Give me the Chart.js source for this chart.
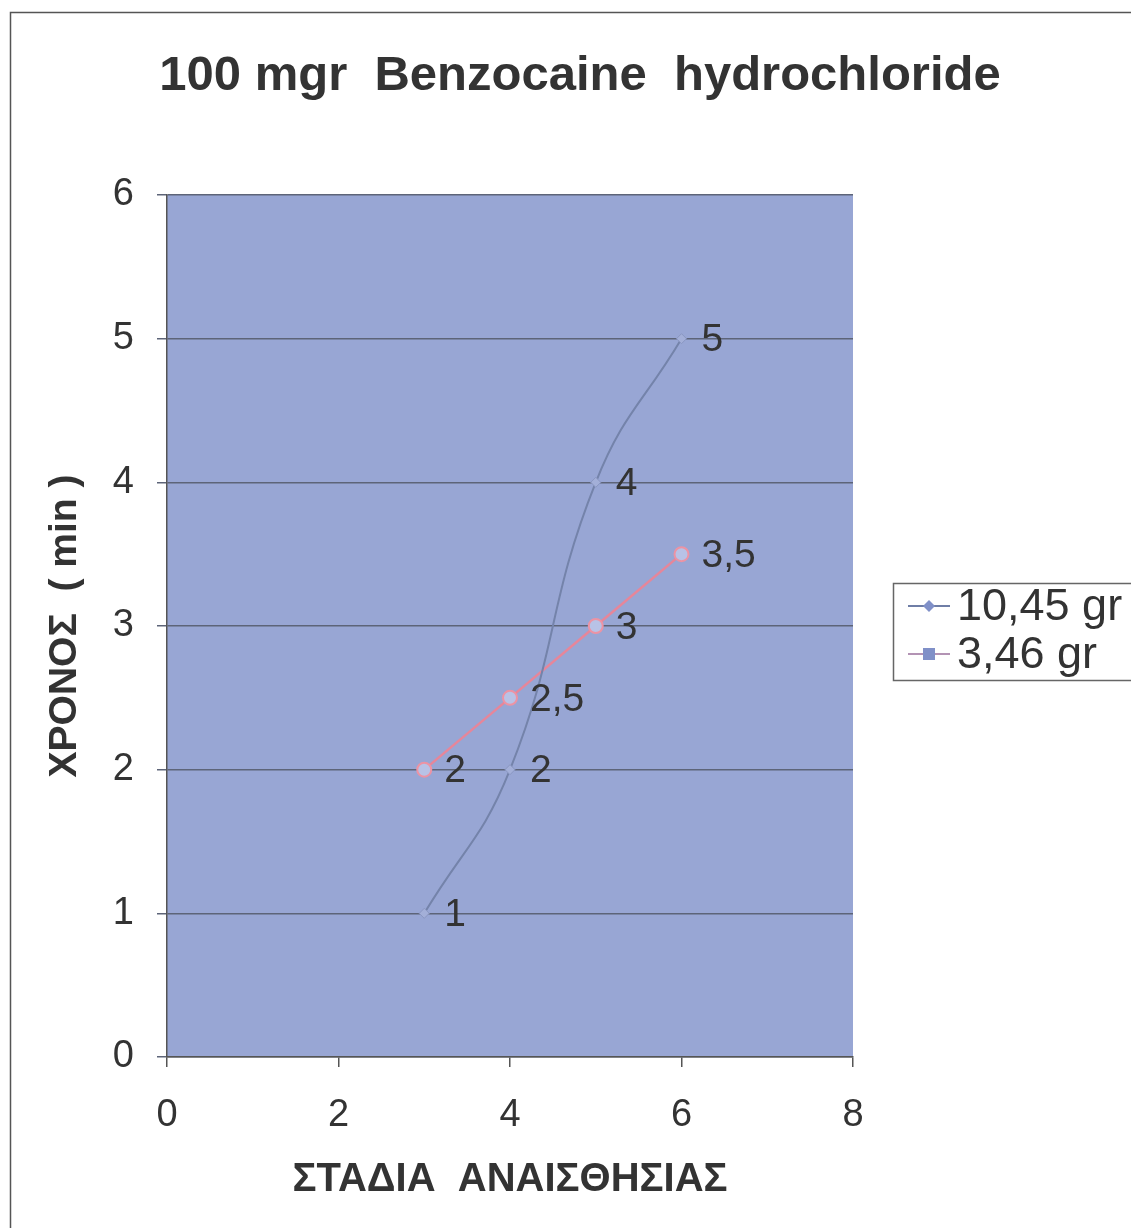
<!DOCTYPE html>
<html>
<head>
<meta charset="utf-8">
<title>100 mgr Benzocaine hydrochloride</title>
<script src="https://cdn.jsdelivr.net/npm/chart.js@4.4.1/dist/chart.umd.min.js"></script>
<style>
  html, body { margin: 0; padding: 0; background: #ffffff; }
  #chart { display: block; }
</style>
</head>
<body>
<canvas id="chart" width="1131" height="1228"></canvas>
<script>
// --- DATA ---
const stagesHigh = [3, 4, 5, 6];        // ΣΤΑΔΙΑ for 10,45 gr
const timesHigh = [1, 2, 4, 5];         // ΧΡΟΝΟΣ (min)
const stagesLow = [3, 4, 5, 6];         // ΣΤΑΔΙΑ for 3,46 gr
const timesLow = [2, 2.5, 3, 3.5];
const seriesNames = ['10,45 gr', '3,46 gr'];
const xTicks = [0, 2, 4, 6, 8];
const yTicks = [0, 1, 2, 3, 4, 5, 6];

const FONT = '"Liberation Sans", Arial, sans-serif';
const TEXT = '#333333';

const toPoints = (xs, ys) => xs.map((x, i) => ({ x, y: ys[i] }));
const fmt = v => String(v).replace('.', ',');

// --- PLUGINS ---

// plot background, outer frame and the main title
const frame = {
    id: 'frame',
    beforeDraw(chart) {
        const { ctx, chartArea: a } = chart;
        ctx.save();
        ctx.fillStyle = '#98a6d4';
        ctx.fillRect(a.left, a.top, a.right - a.left, a.bottom - a.top);
        ctx.strokeStyle = '#555555';
        ctx.lineWidth = 1.5;
        ctx.beginPath();
        ctx.moveTo(10.5, chart.height);
        ctx.lineTo(10.5, 12.5);
        ctx.lineTo(chart.width, 12.5);
        ctx.stroke();
        ctx.fillStyle = TEXT;
        ctx.font = 'bold 49px ' + FONT;
        ctx.textAlign = 'center';
        ctx.textBaseline = 'middle';
        ctx.fillText('100 mgr  Benzocaine  hydrochloride', 580, 76);
        ctx.restore();
    }
};

// value labels to the right of each point
const valueLabels = {
    id: 'valueLabels',
    afterDatasetsDraw(chart) {
        const { ctx } = chart;
        ctx.save();
        ctx.fillStyle = TEXT;
        ctx.font = '39px ' + FONT;
        ctx.textAlign = 'left';
        ctx.textBaseline = 'middle';
        chart.data.datasets.forEach((ds, i) => {
            chart.getDatasetMeta(i).data.forEach((pt, j) => {
                ctx.fillText(fmt(ds.data[j].y), pt.x + 20, pt.y + 2);
            });
        });
        ctx.restore();
    }
};

// boxed legend at the right edge
const sideLegend = {
    id: 'sideLegend',
    afterDraw(chart) {
        const { ctx } = chart;
        const box = { x: 893.5, y: 583.5, w: 260, h: 97 };
        ctx.save();
        ctx.fillStyle = '#ffffff';
        ctx.fillRect(box.x, box.y, box.w, box.h);
        ctx.strokeStyle = '#666666';
        ctx.lineWidth = 1.5;
        ctx.strokeRect(box.x, box.y, box.w, box.h);
        const rows = [
            { y: 606, line: '#6f7ea6', style: 'diamond' },
            { y: 654, line: '#b393b4', style: 'square' }
        ];
        rows.forEach((r, i) => {
            ctx.strokeStyle = r.line;
            ctx.lineWidth = 2;
            ctx.beginPath();
            ctx.moveTo(908, r.y);
            ctx.lineTo(950, r.y);
            ctx.stroke();
            ctx.fillStyle = '#8090c8';
            if (r.style === 'diamond') {
                ctx.beginPath();
                ctx.moveTo(929, r.y - 6);
                ctx.lineTo(935, r.y);
                ctx.lineTo(929, r.y + 6);
                ctx.lineTo(923, r.y);
                ctx.closePath();
                ctx.fill();
            } else {
                ctx.fillRect(923, r.y - 6, 12, 12);
            }
            ctx.fillStyle = TEXT;
            ctx.font = '45px ' + FONT;
            ctx.textAlign = 'left';
            ctx.textBaseline = 'middle';
            ctx.fillText(seriesNames[i], 957, r.y + 2);
        });
        ctx.restore();
    }
};

// --- CHART ---
const ctx = document.getElementById('chart').getContext('2d');
new Chart(ctx, {
    type: 'scatter',
    data: {
        datasets: [{
            label: seriesNames[0],
            data: toPoints(stagesHigh, timesHigh),
            showLine: true,
            tension: 0.45,
            borderColor: '#7483aa',
            borderWidth: 2,
            pointStyle: 'rectRot',
            pointRadius: 5,
            pointBackgroundColor: '#a3afd8',
            pointBorderColor: '#8a97c2',
            pointBorderWidth: 1
        }, {
            label: seriesNames[1],
            data: toPoints(stagesLow, timesLow),
            showLine: true,
            tension: 0,
            borderColor: '#e6869a',
            borderWidth: 2.5,
            pointStyle: 'circle',
            pointRadius: 7,
            pointBackgroundColor: '#b8c2e6',
            pointBorderColor: '#ec93a4',
            pointBorderWidth: 2
        }]
    },
    options: {
        responsive: false,
        animation: false,
        layout: { padding: { left: 0, top: 195, right: 278, bottom: 0 } },
        plugins: {
            legend: { display: false },
            title: { display: false },
            tooltip: { enabled: false }
        },
        scales: {
            x: {
                type: 'linear',
                min: 0,
                max: 8,
                afterBuildTicks: s => { s.ticks = xTicks.map(v => ({ value: v })); },
                afterFit: s => { s.height = 171; },
                border: { color: '#555555', width: 1.5 },
                grid: { drawOnChartArea: false, drawTicks: true, tickLength: 10, color: '#555555', lineWidth: 1.5 },
                ticks: { color: TEXT, font: { family: FONT, size: 38 }, padding: 26, maxRotation: 0 },
                title: {
                    display: true,
                    text: 'ΣΤΑΔΙΑ  ΑΝΑΙΣΘΗΣΙΑΣ',
                    color: TEXT,
                    font: { family: FONT, size: 40, weight: 'bold' },
                    padding: { top: 0, bottom: 24 }
                }
            },
            y: {
                type: 'linear',
                min: 0,
                max: 6,
                afterBuildTicks: s => { s.ticks = yTicks.map(v => ({ value: v })); },
                afterFit: s => { s.width = 167; },
                border: { color: '#555555', width: 1.5 },
                grid: { drawOnChartArea: true, drawTicks: true, tickLength: 10, color: '#5d6478', lineWidth: 1.5 },
                ticks: { color: TEXT, font: { family: FONT, size: 38 }, padding: 23 },
                title: {
                    display: true,
                    text: 'ΧΡΟΝΟΣ  ( min )',
                    color: TEXT,
                    font: { family: FONT, size: 39, weight: 'bold' },
                    padding: { top: 42, bottom: 0 }
                }
            }
        }
    },
    plugins: [frame, valueLabels, sideLegend]
});
</script>
</body>
</html>
